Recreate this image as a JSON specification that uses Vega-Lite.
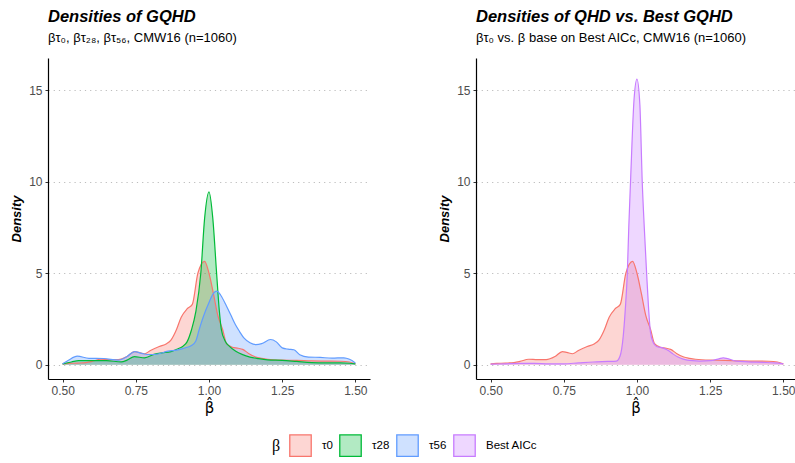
{
  "$schema": "https://vega.github.io/schema/vega-lite/v6.json",
  "background": "white",
  "padding": {"left": 10, "top": 8, "right": 0, "bottom": 0},
  "datasets": {
    "left": [
      {"group": "τ0", "x": 0.50, "d": 0.05},
      {"group": "τ0", "x": 0.52, "d": 0.07},
      {"group": "τ0", "x": 0.55, "d": 0.09},
      {"group": "τ0", "x": 0.58, "d": 0.12},
      {"group": "τ0", "x": 0.60, "d": 0.18},
      {"group": "τ0", "x": 0.63, "d": 0.30},
      {"group": "τ0", "x": 0.66, "d": 0.28},
      {"group": "τ0", "x": 0.69, "d": 0.28},
      {"group": "τ0", "x": 0.72, "d": 0.45},
      {"group": "τ0", "x": 0.745, "d": 0.72},
      {"group": "τ0", "x": 0.76, "d": 0.68},
      {"group": "τ0", "x": 0.78, "d": 0.60},
      {"group": "τ0", "x": 0.80, "d": 0.78},
      {"group": "τ0", "x": 0.83, "d": 1.00},
      {"group": "τ0", "x": 0.855, "d": 1.15},
      {"group": "τ0", "x": 0.87, "d": 1.35},
      {"group": "τ0", "x": 0.889, "d": 1.93},
      {"group": "τ0", "x": 0.905, "d": 2.6},
      {"group": "τ0", "x": 0.925, "d": 3.05},
      {"group": "τ0", "x": 0.943, "d": 3.3},
      {"group": "τ0", "x": 0.962, "d": 5.0},
      {"group": "τ0", "x": 0.985, "d": 5.65},
      {"group": "τ0", "x": 1.00, "d": 5.0},
      {"group": "τ0", "x": 1.015, "d": 3.9},
      {"group": "τ0", "x": 1.03, "d": 2.7},
      {"group": "τ0", "x": 1.047, "d": 1.9},
      {"group": "τ0", "x": 1.06, "d": 1.15},
      {"group": "τ0", "x": 1.08, "d": 0.95},
      {"group": "τ0", "x": 1.10, "d": 0.9},
      {"group": "τ0", "x": 1.115, "d": 0.84},
      {"group": "τ0", "x": 1.135, "d": 0.62},
      {"group": "τ0", "x": 1.16, "d": 0.42},
      {"group": "τ0", "x": 1.18, "d": 0.35},
      {"group": "τ0", "x": 1.20, "d": 0.3},
      {"group": "τ0", "x": 1.25, "d": 0.25},
      {"group": "τ0", "x": 1.30, "d": 0.24},
      {"group": "τ0", "x": 1.35, "d": 0.21},
      {"group": "τ0", "x": 1.40, "d": 0.2},
      {"group": "τ0", "x": 1.45, "d": 0.19},
      {"group": "τ0", "x": 1.48, "d": 0.15},
      {"group": "τ0", "x": 1.50, "d": 0.05},
      {"group": "τ28", "x": 0.50, "d": 0.05},
      {"group": "τ28", "x": 0.53, "d": 0.15},
      {"group": "τ28", "x": 0.555, "d": 0.23},
      {"group": "τ28", "x": 0.60, "d": 0.22},
      {"group": "τ28", "x": 0.65, "d": 0.22},
      {"group": "τ28", "x": 0.70, "d": 0.16},
      {"group": "τ28", "x": 0.72, "d": 0.25},
      {"group": "τ28", "x": 0.745, "d": 0.44},
      {"group": "τ28", "x": 0.78, "d": 0.38},
      {"group": "τ28", "x": 0.815, "d": 0.58},
      {"group": "τ28", "x": 0.84, "d": 0.65},
      {"group": "τ28", "x": 0.87, "d": 0.72},
      {"group": "τ28", "x": 0.89, "d": 0.85},
      {"group": "τ28", "x": 0.91, "d": 1.0},
      {"group": "τ28", "x": 0.925, "d": 1.25},
      {"group": "τ28", "x": 0.94, "d": 1.9},
      {"group": "τ28", "x": 0.955, "d": 2.9},
      {"group": "τ28", "x": 0.972, "d": 5.0},
      {"group": "τ28", "x": 0.985, "d": 8.0},
      {"group": "τ28", "x": 1.00, "d": 9.45},
      {"group": "τ28", "x": 1.013, "d": 8.0},
      {"group": "τ28", "x": 1.026, "d": 5.0},
      {"group": "τ28", "x": 1.035, "d": 3.0},
      {"group": "τ28", "x": 1.042, "d": 1.95},
      {"group": "τ28", "x": 1.055, "d": 1.3},
      {"group": "τ28", "x": 1.07, "d": 1.0},
      {"group": "τ28", "x": 1.09, "d": 0.75},
      {"group": "τ28", "x": 1.115, "d": 0.55},
      {"group": "τ28", "x": 1.14, "d": 0.42},
      {"group": "τ28", "x": 1.17, "d": 0.33},
      {"group": "τ28", "x": 1.20, "d": 0.27},
      {"group": "τ28", "x": 1.25, "d": 0.24},
      {"group": "τ28", "x": 1.30, "d": 0.18},
      {"group": "τ28", "x": 1.35, "d": 0.12},
      {"group": "τ28", "x": 1.40, "d": 0.1},
      {"group": "τ28", "x": 1.45, "d": 0.1},
      {"group": "τ28", "x": 1.48, "d": 0.08},
      {"group": "τ28", "x": 1.50, "d": 0.05},
      {"group": "τ56", "x": 0.50, "d": 0.05},
      {"group": "τ56", "x": 0.52, "d": 0.25},
      {"group": "τ56", "x": 0.55, "d": 0.47},
      {"group": "τ56", "x": 0.59, "d": 0.35},
      {"group": "τ56", "x": 0.64, "d": 0.34},
      {"group": "τ56", "x": 0.69, "d": 0.25},
      {"group": "τ56", "x": 0.72, "d": 0.45},
      {"group": "τ56", "x": 0.746, "d": 0.72},
      {"group": "τ56", "x": 0.77, "d": 0.62},
      {"group": "τ56", "x": 0.79, "d": 0.56},
      {"group": "τ56", "x": 0.815, "d": 0.56},
      {"group": "τ56", "x": 0.86, "d": 0.74},
      {"group": "τ56", "x": 0.89, "d": 0.8},
      {"group": "τ56", "x": 0.92, "d": 0.93},
      {"group": "τ56", "x": 0.94, "d": 1.05},
      {"group": "τ56", "x": 0.955, "d": 1.3},
      {"group": "τ56", "x": 0.966, "d": 1.9},
      {"group": "τ56", "x": 0.98, "d": 2.6},
      {"group": "τ56", "x": 1.00, "d": 3.4},
      {"group": "τ56", "x": 1.015, "d": 3.9},
      {"group": "τ56", "x": 1.027, "d": 4.02},
      {"group": "τ56", "x": 1.04, "d": 3.8},
      {"group": "τ56", "x": 1.06, "d": 3.2},
      {"group": "τ56", "x": 1.075, "d": 2.7},
      {"group": "τ56", "x": 1.09, "d": 2.2},
      {"group": "τ56", "x": 1.105, "d": 1.8},
      {"group": "τ56", "x": 1.12, "d": 1.45},
      {"group": "τ56", "x": 1.14, "d": 1.2},
      {"group": "τ56", "x": 1.16, "d": 1.1},
      {"group": "τ56", "x": 1.18, "d": 1.15},
      {"group": "τ56", "x": 1.21, "d": 1.38},
      {"group": "τ56", "x": 1.23, "d": 1.25},
      {"group": "τ56", "x": 1.25, "d": 0.92},
      {"group": "τ56", "x": 1.27, "d": 0.85},
      {"group": "τ56", "x": 1.29, "d": 0.82},
      {"group": "τ56", "x": 1.31, "d": 0.55},
      {"group": "τ56", "x": 1.34, "d": 0.42},
      {"group": "τ56", "x": 1.38, "d": 0.4},
      {"group": "τ56", "x": 1.42, "d": 0.36},
      {"group": "τ56", "x": 1.46, "d": 0.38},
      {"group": "τ56", "x": 1.48, "d": 0.3},
      {"group": "τ56", "x": 1.50, "d": 0.1}
    ],
    "right": [
      {"group": "τ0", "x": 0.50, "d": 0.05},
      {"group": "τ0", "x": 0.52, "d": 0.07},
      {"group": "τ0", "x": 0.55, "d": 0.09},
      {"group": "τ0", "x": 0.58, "d": 0.12},
      {"group": "τ0", "x": 0.60, "d": 0.18},
      {"group": "τ0", "x": 0.63, "d": 0.30},
      {"group": "τ0", "x": 0.66, "d": 0.28},
      {"group": "τ0", "x": 0.69, "d": 0.28},
      {"group": "τ0", "x": 0.72, "d": 0.45},
      {"group": "τ0", "x": 0.745, "d": 0.72},
      {"group": "τ0", "x": 0.76, "d": 0.68},
      {"group": "τ0", "x": 0.78, "d": 0.60},
      {"group": "τ0", "x": 0.80, "d": 0.78},
      {"group": "τ0", "x": 0.83, "d": 1.00},
      {"group": "τ0", "x": 0.855, "d": 1.15},
      {"group": "τ0", "x": 0.87, "d": 1.35},
      {"group": "τ0", "x": 0.889, "d": 1.93},
      {"group": "τ0", "x": 0.905, "d": 2.6},
      {"group": "τ0", "x": 0.925, "d": 3.05},
      {"group": "τ0", "x": 0.943, "d": 3.3},
      {"group": "τ0", "x": 0.962, "d": 5.0},
      {"group": "τ0", "x": 0.985, "d": 5.65},
      {"group": "τ0", "x": 1.00, "d": 5.0},
      {"group": "τ0", "x": 1.015, "d": 3.9},
      {"group": "τ0", "x": 1.03, "d": 2.7},
      {"group": "τ0", "x": 1.047, "d": 1.9},
      {"group": "τ0", "x": 1.06, "d": 1.15},
      {"group": "τ0", "x": 1.08, "d": 0.95},
      {"group": "τ0", "x": 1.10, "d": 0.9},
      {"group": "τ0", "x": 1.115, "d": 0.84},
      {"group": "τ0", "x": 1.135, "d": 0.62},
      {"group": "τ0", "x": 1.16, "d": 0.42},
      {"group": "τ0", "x": 1.18, "d": 0.35},
      {"group": "τ0", "x": 1.20, "d": 0.3},
      {"group": "τ0", "x": 1.25, "d": 0.25},
      {"group": "τ0", "x": 1.30, "d": 0.24},
      {"group": "τ0", "x": 1.35, "d": 0.21},
      {"group": "τ0", "x": 1.40, "d": 0.2},
      {"group": "τ0", "x": 1.45, "d": 0.19},
      {"group": "τ0", "x": 1.48, "d": 0.15},
      {"group": "τ0", "x": 1.50, "d": 0.05},
      {"group": "Best AICc", "x": 0.50, "d": 0.03},
      {"group": "Best AICc", "x": 0.55, "d": 0.05},
      {"group": "Best AICc", "x": 0.60, "d": 0.07},
      {"group": "Best AICc", "x": 0.65, "d": 0.07},
      {"group": "Best AICc", "x": 0.70, "d": 0.05},
      {"group": "Best AICc", "x": 0.75, "d": 0.05},
      {"group": "Best AICc", "x": 0.80, "d": 0.1},
      {"group": "Best AICc", "x": 0.85, "d": 0.15},
      {"group": "Best AICc", "x": 0.90, "d": 0.18},
      {"group": "Best AICc", "x": 0.93, "d": 0.2},
      {"group": "Best AICc", "x": 0.942, "d": 0.46},
      {"group": "Best AICc", "x": 0.953, "d": 1.55},
      {"group": "Best AICc", "x": 0.96, "d": 3.0},
      {"group": "Best AICc", "x": 0.967, "d": 5.0},
      {"group": "Best AICc", "x": 0.972, "d": 7.5},
      {"group": "Best AICc", "x": 0.978, "d": 10.0},
      {"group": "Best AICc", "x": 0.99, "d": 14.5},
      {"group": "Best AICc", "x": 1.00, "d": 15.62},
      {"group": "Best AICc", "x": 1.01, "d": 14.2},
      {"group": "Best AICc", "x": 1.018, "d": 10.0},
      {"group": "Best AICc", "x": 1.025, "d": 7.5},
      {"group": "Best AICc", "x": 1.033, "d": 5.0},
      {"group": "Best AICc", "x": 1.04, "d": 3.0},
      {"group": "Best AICc", "x": 1.046, "d": 1.8},
      {"group": "Best AICc", "x": 1.056, "d": 1.2},
      {"group": "Best AICc", "x": 1.067, "d": 1.0},
      {"group": "Best AICc", "x": 1.09, "d": 0.91},
      {"group": "Best AICc", "x": 1.11, "d": 0.75},
      {"group": "Best AICc", "x": 1.124, "d": 0.58},
      {"group": "Best AICc", "x": 1.14, "d": 0.42},
      {"group": "Best AICc", "x": 1.158, "d": 0.31},
      {"group": "Best AICc", "x": 1.19, "d": 0.22},
      {"group": "Best AICc", "x": 1.215, "d": 0.2},
      {"group": "Best AICc", "x": 1.25, "d": 0.22},
      {"group": "Best AICc", "x": 1.28, "d": 0.32},
      {"group": "Best AICc", "x": 1.295, "d": 0.38},
      {"group": "Best AICc", "x": 1.31, "d": 0.33},
      {"group": "Best AICc", "x": 1.34, "d": 0.2},
      {"group": "Best AICc", "x": 1.38, "d": 0.16},
      {"group": "Best AICc", "x": 1.43, "d": 0.13},
      {"group": "Best AICc", "x": 1.47, "d": 0.1},
      {"group": "Best AICc", "x": 1.50, "d": 0.05}
    ]
  },
  "hconcat": [
    {
      "width": 322,
      "height": 321,
      "title": {"text": "Densities of GQHD", "subtitle": "βτ₀, βτ₂₈, βτ₅₆, CMW16 (n=1060)"},
      "data": {"name": "left"},
      "encoding": {
        "x": {"field": "x", "type": "quantitative", "scale": {"domain": [0.45, 1.55], "nice": false, "zero": false},
              "axis": {"values": [0.5, 0.75, 1, 1.25, 1.5], "format": ".2f", "title": "β̂", "grid": false}},
        "y": {"field": "d", "type": "quantitative", "stack": null, "scale": {"domain": [-0.78, 16.77], "nice": false, "zero": false},
              "axis": {"values": [0, 5, 10, 15], "title": "Density", "grid": true}},
        "color": {"field": "group", "type": "nominal",
                  "scale": {"domain": ["τ0", "τ28", "τ56", "Best AICc"], "range": ["#F8766D", "#00BA38", "#619CFF", "#C77CFF"]},
                  "legend": {
                    "orient": "none", "legendX": 224, "legendY": 376,
                    "direction": "horizontal", "title": "β", "titleOrient": "left",
                    "titleFont": "Liberation Serif", "titleFontSize": 16, "titleFontWeight": "normal", "titleColor": "black",
                    "titlePadding": 8,
                    "labelFont": "Liberation Sans", "labelFontSize": 11.5, "labelColor": "black",
                    "symbolType": "square", "symbolSize": 460, "labelOffset": 10, "columnPadding": 4,
                    "encode": {"symbols": {"update": {"fillOpacity": {"value": 0.3}, "stroke": {"scale": "color", "field": "value"}, "strokeWidth": {"value": 1.3}}}}
                  }}
      },
      "layer": [
        {"mark": {"type": "area", "interpolate": "monotone", "fillOpacity": 0.3}, "encoding": {"y2": {"datum": 0}}},
        {"mark": {"type": "line", "interpolate": "monotone", "strokeWidth": 1.2}, "encoding": {}}
      ]
    },
    {
      "width": 319,
      "height": 321,
      "title": {"text": "Densities of QHD vs. Best GQHD", "subtitle": "βτ₀ vs. β base on Best AICc, CMW16 (n=1060)"},
      "data": {"name": "right"},
      "encoding": {
        "x": {"field": "x", "type": "quantitative", "scale": {"domain": [0.45, 1.54], "nice": false, "zero": false},
              "axis": {"values": [0.5, 0.75, 1, 1.25, 1.5], "format": ".2f", "title": "β̂", "grid": false}},
        "y": {"field": "d", "type": "quantitative", "stack": null, "scale": {"domain": [-0.78, 16.77], "nice": false, "zero": false},
              "axis": {"values": [0, 5, 10, 15], "title": "Density", "grid": true}},
        "color": {"field": "group", "type": "nominal",
                  "scale": {"domain": ["τ0", "τ28", "τ56", "Best AICc"], "range": ["#F8766D", "#00BA38", "#619CFF", "#C77CFF"]}}
      },
      "layer": [
        {"mark": {"type": "area", "interpolate": "monotone", "fillOpacity": 0.3}, "encoding": {"y2": {"datum": 0}}},
        {"mark": {"type": "line", "interpolate": "monotone", "strokeWidth": 1.2}, "encoding": {}}
      ]
    }
  ],
  "spacing": 106,
  "bounds": "flush",
  "resolve": {"scale": {"color": "shared"}},
  "config": {
    "view": {"stroke": null},
    "font": "Liberation Sans",
    "title": {
      "anchor": "start",
      "frame": "group",
      "font": "Liberation Sans",
      "fontSize": 16.5,
      "fontStyle": "italic",
      "fontWeight": "bold",
      "color": "black",
      "subtitleFont": "Liberation Sans",
      "subtitleFontSize": 13,
      "subtitleColor": "black",
      "subtitlePadding": 7,
      "offset": 13
    },
    "axis": {
      "domainColor": "black",
      "domainWidth": 1.2,
      "tickColor": "#333333",
      "tickSize": 3,
      "labelColor": "#4D4D4D",
      "labelFont": "Liberation Sans",
      "labelFontSize": 12,
      "titleFont": "Liberation Sans",
      "titleColor": "black",
      "labelPadding": 3
    },
    "axisX": {
      "titleFont": "DejaVu Sans",
      "titleFontSize": 15,
      "titleFontWeight": "normal",
      "titlePadding": 4
    },
    "axisY": {
      "gridColor": "#BDBDBD",
      "gridDash": [1.2, 4],
      "gridWidth": 1.2,
      "titleFontSize": 13,
      "titleFontStyle": "italic",
      "titleFontWeight": "bold",
      "titlePadding": 5
    }
  }
}
